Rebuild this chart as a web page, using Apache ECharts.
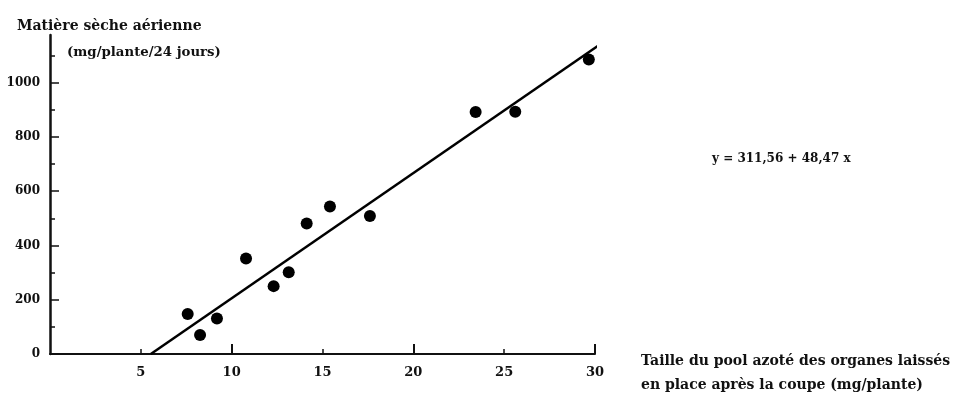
<!DOCTYPE html>
<html>
<head>
<meta charset="utf-8">
<script src="https://cdn.jsdelivr.net/npm/echarts@6/dist/echarts.min.js"></script>
<style>html,body{margin:0;padding:0;background:#fff}#c{width:962px;height:394px}</style>
</head>
<body>
<div id="c"></div>
<script>
const pointsX = [7.58, 8.26, 9.19, 10.79, 12.31, 13.14, 14.13, 15.41, 17.61, 23.43, 25.61, 29.66];
const pointsY = [147, 70, 131, 352, 250, 301, 481, 543, 508, 891, 892, 1085];
const lineX = [5.55, 30.35];
const lineY = [0, 1144];
const xTickLabels = [5, 10, 15, 20, 25, 30];
const xMajorTicks = [10, 20, 30];
const xMinorTicks = [5, 15, 25];
const yTickLabels = [0, 200, 400, 600, 800, 1000];
const yMinorTicks = [100, 300, 500, 700, 900, 1100];

const FONT = '"DejaVu Serif", serif';
const grid = {left: 50, right: 367, top: 35, bottom: 40};
const txt = (size) => ({fontFamily: FONT, fontSize: size, fontWeight: 'bold', color: '#111'});
const chart = echarts.init(document.getElementById('c'));
chart.setOption({
  backgroundColor: '#fff',
  animation: false,
  title: [
    {text: 'Matière sèche aérienne', left: 12, top: 14, textStyle: txt(14)},
    {text: '(mg/plante/24 jours)', left: 62, top: 41, textStyle: txt(13.3)},
    {text: 'y = 311,56 + 48,47 x', left: 707, top: 148, textStyle: txt(12)},
    {text: 'Taille du pool azoté des organes laissés', left: 636, top: 349, textStyle: txt(14)},
    {text: 'en place après la coupe (mg/plante)', left: 636, top: 373, textStyle: txt(14)}
  ],
  grid: [grid, Object.assign({}, grid)],
  xAxis: [
    {type: 'value', gridIndex: 0, min: 0, max: 30, interval: 5,
     axisLine: {show: true, lineStyle: {color: '#111', width: 2}},
     axisTick: {show: true, inside: true, length: 10, customValues: xMajorTicks, lineStyle: {color: '#111', width: 2}},
     axisLabel: {customValues: xTickLabels, margin: 12, formatter: v => String(v), ...txt(13)},
     splitLine: {show: false}},
    {type: 'value', gridIndex: 1, min: 0, max: 30, interval: 5,
     axisLine: {show: false},
     axisTick: {show: true, inside: true, length: 5, customValues: xMinorTicks, lineStyle: {color: '#111', width: 1.5}},
     axisLabel: {show: false}, splitLine: {show: false}}
  ],
  yAxis: [
    {type: 'value', gridIndex: 0, min: 0, max: 1175, interval: 200,
     axisLine: {show: true, lineStyle: {color: '#111', width: 2.5}},
     axisTick: {show: true, inside: true, length: 9, customValues: yTickLabels, lineStyle: {color: '#111', width: 1.5}},
     axisLabel: {customValues: yTickLabels, margin: 10, formatter: v => String(v), ...txt(12)},
     splitLine: {show: false}},
    {type: 'value', gridIndex: 1, min: 0, max: 1175, interval: 200,
     axisLine: {show: false},
     axisTick: {show: true, inside: true, length: 5, customValues: yMinorTicks, lineStyle: {color: '#111', width: 1.5}},
     axisLabel: {show: false}, splitLine: {show: false}}
  ],
  series: [
    {type: 'line', xAxisIndex: 0, yAxisIndex: 0, clip: false, symbol: 'none',
     data: lineX.map((x, i) => [x, lineY[i]]),
     lineStyle: {color: '#000', width: 2.5}},
    {type: 'scatter', xAxisIndex: 0, yAxisIndex: 0, symbolSize: 12,
     data: pointsX.map((x, i) => [x, pointsY[i]]),
     itemStyle: {color: '#000', opacity: 1}}
  ]
});
</script>
</body>
</html>
